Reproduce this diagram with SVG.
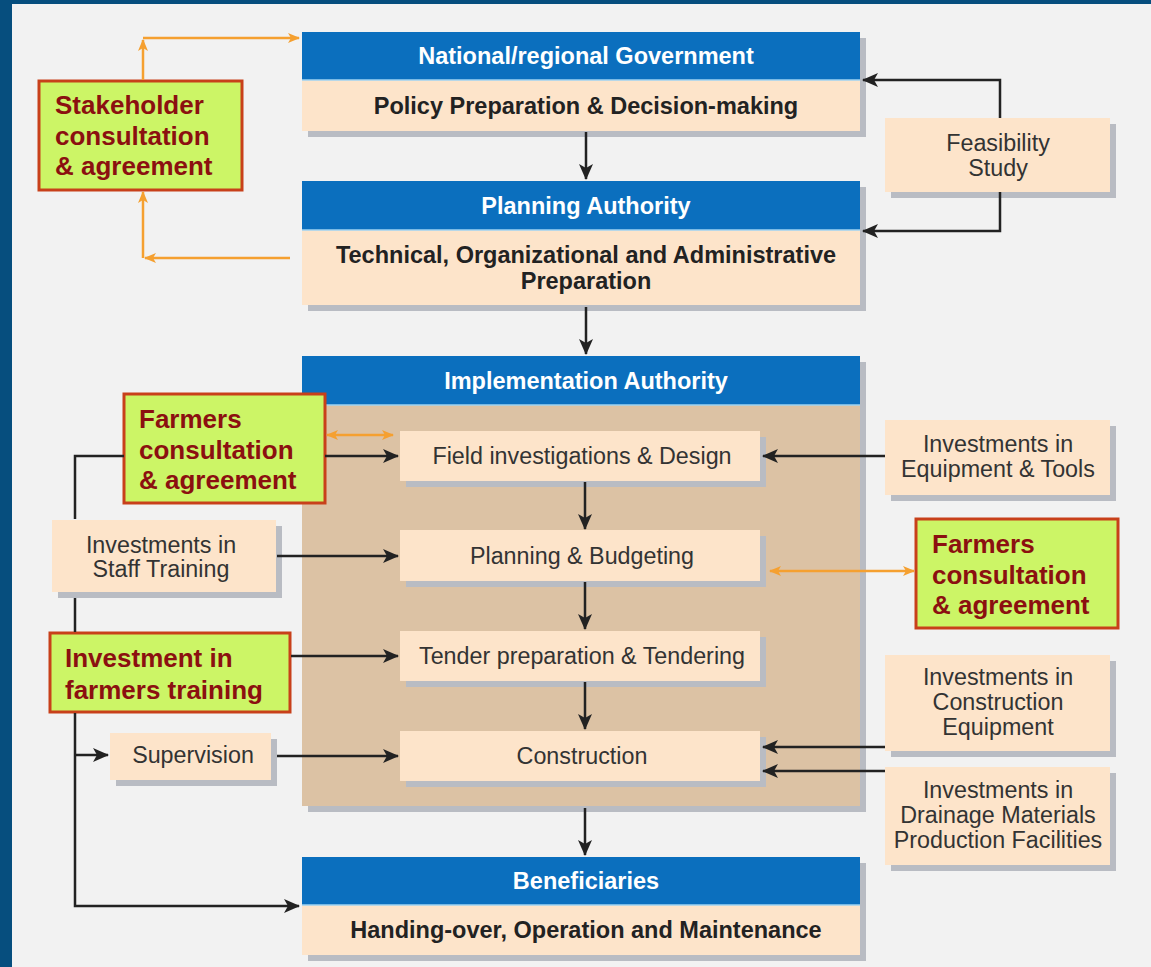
<svg xmlns="http://www.w3.org/2000/svg" width="1151" height="967" viewBox="0 0 1151 967">
<defs>
<style>
.hdr{fill:#0B6FBE}
.bd{fill:#FDE4CA}
.tan{fill:#DCC2A4}
.sh{fill:#B9BCC3}
.grn{fill:#CCF566;stroke:#C8401A;stroke-width:3}
.ht{font-family:"Liberation Sans",Arial,sans-serif;font-weight:bold;font-size:23.5px;fill:#FFFFFF;text-anchor:middle}
.bt{font-family:"Liberation Sans",Arial,sans-serif;font-weight:bold;font-size:23.5px;fill:#222222;text-anchor:middle}
.rt{font-family:"Liberation Sans",Arial,sans-serif;font-size:23.3px;fill:#333333;text-anchor:middle}
.gt{font-family:"Liberation Sans",Arial,sans-serif;font-weight:bold;font-size:26px;fill:#8B1010}
.ln{fill:none;stroke:#222222;stroke-width:2.5}
.ol{fill:none;stroke:#F5A030;stroke-width:2.5}
.sep{stroke:#9FD3F2;stroke-width:1.5}
</style>
<marker id="ab" markerUnits="userSpaceOnUse" markerWidth="16" markerHeight="14" refX="15" refY="7" orient="auto">
<path d="M0,0 L16,7 L0,14 L4,7 z" fill="#222222"/>
</marker>
<marker id="ao" markerUnits="userSpaceOnUse" markerWidth="12" markerHeight="10" refX="11" refY="5" orient="auto-start-reverse">
<path d="M0,0 L12,5 L0,10 L3,5 z" fill="#F5A030"/>
</marker>
</defs>
<rect x="0" y="0" width="1151" height="967" fill="#064E7E"/>
<rect x="12" y="4" width="1139" height="963" fill="#F2F2F2"/>

<g id="national-government">
<rect class="sh" x="308" y="38" width="558" height="99"/>
<rect class="hdr" x="302" y="32" width="558" height="48"/>
<rect class="bd" x="302" y="80" width="558" height="51"/>
<line class="sep" x1="302" y1="80" x2="860" y2="80"/>
<text class="ht" x="586" y="64">National/regional Government</text>
<text class="bt" x="586" y="114">Policy Preparation &amp; Decision-making</text>
</g>

<g id="planning-authority">
<rect class="sh" x="308" y="187" width="558" height="124"/>
<rect class="hdr" x="302" y="181" width="558" height="49"/>
<rect class="bd" x="302" y="230" width="558" height="75"/>
<line class="sep" x1="302" y1="230" x2="860" y2="230"/>
<text class="ht" x="586" y="214">Planning Authority</text>
<text class="bt" x="586" y="263">Technical, Organizational and Administrative</text>
<text class="bt" x="586" y="289">Preparation</text>
</g>

<g id="implementation-authority">
<rect class="sh" x="308" y="362" width="558" height="450"/>
<rect class="hdr" x="302" y="356" width="558" height="49"/>
<rect class="tan" x="302" y="405" width="558" height="401"/>
<line class="sep" x1="302" y1="405" x2="860" y2="405"/>
<text class="ht" x="586" y="389">Implementation Authority</text>
</g>

<g id="field-investigations">
<rect class="sh" x="406" y="437" width="360" height="50"/>
<rect class="bd" x="400" y="431" width="360" height="50"/>
<text class="rt" x="582" y="464">Field investigations &amp; Design</text>
</g>

<g id="planning-budgeting">
<rect class="sh" x="406" y="536" width="360" height="51"/>
<rect class="bd" x="400" y="530" width="360" height="51"/>
<text class="rt" x="582" y="564">Planning &amp; Budgeting</text>
</g>

<g id="tender">
<rect class="sh" x="406" y="637" width="360" height="50"/>
<rect class="bd" x="400" y="631" width="360" height="50"/>
<text class="rt" x="582" y="664">Tender preparation &amp; Tendering</text>
</g>

<g id="construction">
<rect class="sh" x="406" y="737" width="360" height="50"/>
<rect class="bd" x="400" y="731" width="360" height="50"/>
<text class="rt" x="582" y="764">Construction</text>
</g>

<g id="beneficiaries">
<rect class="sh" x="308" y="863" width="558" height="98"/>
<rect class="hdr" x="302" y="857" width="558" height="48"/>
<rect class="bd" x="302" y="905" width="558" height="50"/>
<line class="sep" x1="302" y1="905" x2="860" y2="905"/>
<text class="ht" x="586" y="889">Beneficiaries</text>
<text class="bt" x="586" y="938">Handing-over, Operation and Maintenance</text>
</g>

<g id="feasibility-study">
<rect class="sh" x="891" y="124" width="225" height="74"/>
<rect class="bd" x="885" y="118" width="225" height="74"/>
<text class="rt" x="998" y="151">Feasibility</text>
<text class="rt" x="998" y="176">Study</text>
</g>

<g id="stakeholder-consultation">
<rect class="grn" x="39" y="81" width="203" height="109"/>
<text class="gt" x="55" y="114">Stakeholder</text>
<text class="gt" x="55" y="145">consultation</text>
<text class="gt" x="55" y="175">&amp; agreement</text>
</g>

<g id="farmers-consultation-left">
<rect class="grn" x="124" y="394" width="201" height="109"/>
<text class="gt" x="139" y="428">Farmers</text>
<text class="gt" x="139" y="459">consultation</text>
<text class="gt" x="139" y="489">&amp; agreement</text>
</g>

<g id="staff-training">
<rect class="sh" x="58" y="526" width="224" height="72"/>
<rect class="bd" x="52" y="520" width="224" height="72"/>
<text class="rt" x="161" y="553">Investments in</text>
<text class="rt" x="161" y="577">Staff Training</text>
</g>

<g id="farmers-training">
<rect class="grn" x="50" y="633" width="240" height="79"/>
<text class="gt" x="65" y="667">Investment in</text>
<text class="gt" x="65" y="699">farmers training</text>
</g>

<g id="supervision">
<rect class="sh" x="116" y="739" width="161" height="47"/>
<rect class="bd" x="110" y="733" width="161" height="47"/>
<text class="rt" x="193" y="763">Supervision</text>
</g>

<g id="equipment-tools">
<rect class="sh" x="891" y="426" width="225" height="75"/>
<rect class="bd" x="885" y="420" width="225" height="75"/>
<text class="rt" x="998" y="452">Investments in</text>
<text class="rt" x="998" y="477">Equipment &amp; Tools</text>
</g>

<g id="farmers-consultation-right">
<rect class="grn" x="916" y="519" width="202" height="109"/>
<text class="gt" x="932" y="553">Farmers</text>
<text class="gt" x="932" y="584">consultation</text>
<text class="gt" x="932" y="614">&amp; agreement</text>
</g>

<g id="construction-equipment">
<rect class="sh" x="891" y="661" width="225" height="96"/>
<rect class="bd" x="885" y="655" width="225" height="96"/>
<text class="rt" x="998" y="685">Investments in</text>
<text class="rt" x="998" y="710">Construction</text>
<text class="rt" x="998" y="735">Equipment</text>
</g>

<g id="drainage-materials">
<rect class="sh" x="891" y="773" width="225" height="98"/>
<rect class="bd" x="885" y="767" width="225" height="98"/>
<text class="rt" x="998" y="798">Investments in</text>
<text class="rt" x="998" y="823">Drainage Materials</text>
<text class="rt" x="998" y="848">Production Facilities</text>
</g>

<g id="connectors">
<path class="ln" d="M586,132 V179" marker-end="url(#ab)"/>
<path class="ln" d="M586,307 V354" marker-end="url(#ab)"/>
<path class="ln" d="M585,482 V529" marker-end="url(#ab)"/>
<path class="ln" d="M585,582 V629" marker-end="url(#ab)"/>
<path class="ln" d="M585,682 V729" marker-end="url(#ab)"/>
<path class="ln" d="M585,808 V855" marker-end="url(#ab)"/>
<path class="ln" d="M1000,118 V80 H863" marker-end="url(#ab)"/>
<path class="ln" d="M1000,192 V231 H863" marker-end="url(#ab)"/>
<path class="ol" d="M143,80 V40" marker-end="url(#ao)"/>
<path class="ol" d="M143,38 H299" marker-end="url(#ao)"/>
<path class="ol" d="M290,258 H145" marker-end="url(#ao)"/>
<path class="ol" d="M143,258 V192" marker-end="url(#ao)"/>
<path class="ol" d="M327,435 H393" marker-start="url(#ao)" marker-end="url(#ao)"/>
<path class="ol" d="M770,571 H914" marker-start="url(#ao)" marker-end="url(#ao)"/>
<path class="ln" d="M325,456 H398" marker-end="url(#ab)"/>
<path class="ln" d="M124,456 H75 V519"/>
<path class="ln" d="M75,598 V632"/>
<path class="ln" d="M75,713 V906 H299" marker-end="url(#ab)"/>
<path class="ln" d="M75,755 H108" marker-end="url(#ab)"/>
<path class="ln" d="M277,556 H398" marker-end="url(#ab)"/>
<path class="ln" d="M291,656 H398" marker-end="url(#ab)"/>
<path class="ln" d="M277,756 H398" marker-end="url(#ab)"/>
<path class="ln" d="M885,456 H763" marker-end="url(#ab)"/>
<path class="ln" d="M885,747 H763" marker-end="url(#ab)"/>
<path class="ln" d="M885,771 H763" marker-end="url(#ab)"/>
</g>
</svg>
